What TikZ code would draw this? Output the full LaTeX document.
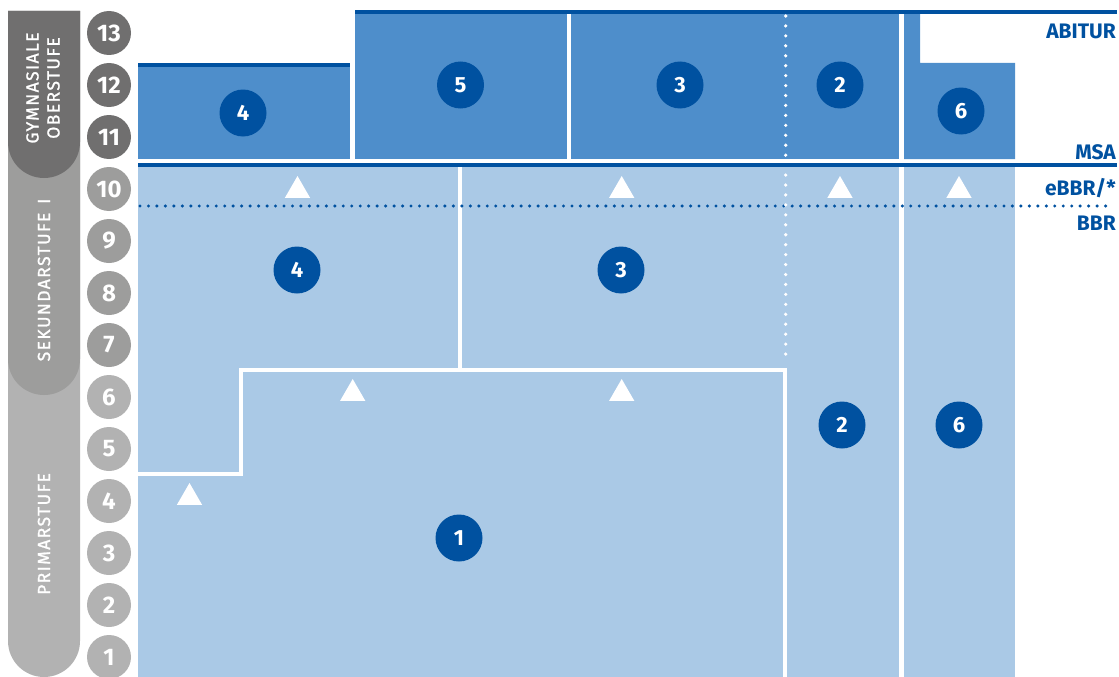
\documentclass[tikz,border=0pt]{standalone}
\usepackage{fontspec}
\setmainfont{Fira Sans}
\newfontfamily\bandfont[LetterSpace=8, FakeBold=1.2]{Fira Sans}
\usepackage{tikz}
\usetikzlibrary{
	shapes.geometric,
	positioning
}
\definecolor{darkblue}{HTML}{0051A0}
\definecolor{midblue}{HTML}{4E8ECB}
\definecolor{lightblue}{HTML}{AAC9E6}
\definecolor{gymgray}{HTML}{706F6F}
\definecolor{sekgray}{HTML}{9D9D9C}
\definecolor{primgray}{HTML}{B2B2B2}

\begin{document}
\begin{tikzpicture}[
    x=1pt, y=-1pt,
    grade/.style={circle, inner sep=0pt, outer sep=0pt, minimum size=44pt, text=white, font=\fontsize{24}{24}\selectfont\bfseries},
    stage/.style={circle, fill=darkblue, inner sep=0pt, minimum size=47pt, text=white, font=\fontsize{22}{22}\selectfont\bfseries},
    exit/.style={anchor=base east, inner sep=0pt, text=darkblue, font=\fontsize{21}{21}\selectfont\bfseries},
    bandtext/.style={rotate=90, inner sep=0pt, align=center, text=white, font=\fontsize{17.5}{21}\bandfont},
    up/.style={regular polygon, regular polygon sides=3, fill=white, inner sep=0pt, minimum size=29pt},
    gap/.style={white, line width=4pt},
    dots/.style={line width=3.4pt, line cap=round}
]
\useasboundingbox (0,0) rectangle (1119,677);

% Stufen
\fill[primgray] (8,11) -- (80,11) -- (80,641) arc[start angle=0, end angle=180, radius=36] -- cycle;
\fill[sekgray] (8,11) -- (80,11) -- (80,359) arc[start angle=0, end angle=180, radius=36] -- cycle;
\fill[gymgray] (8,11) -- (80,11) -- (80,142) arc[start angle=0, end angle=180, radius=36] -- cycle;

\node[bandtext] (gym) at (43,88) {GYMNASIALE\\OBERSTUFE};
\node[bandtext] (sek) at (44,280) {SEKUNDARSTUFE\enspace I};
\node[bandtext] (prim) at (44,534) {PRIMARSTUFE};

% Jahrgangsstufen
\node[grade, fill=primgray] (g1) at (109,657) {1};
\node[grade, fill=primgray, above=8pt of g1] (g2) {2};
\node[grade, fill=primgray, above=8pt of g2] (g3) {3};
\node[grade, fill=primgray, above=8pt of g3] (g4) {4};
\node[grade, fill=primgray, above=8pt of g4] (g5) {5};
\node[grade, fill=primgray, above=8pt of g5] (g6) {6};
\node[grade, fill=sekgray, above=8pt of g6] (g7) {7};
\node[grade, fill=sekgray, above=8pt of g7] (g8) {8};
\node[grade, fill=sekgray, above=8pt of g8] (g9) {9};
\node[grade, fill=sekgray, above=8pt of g9] (g10) {10};
\node[grade, fill=gymgray, above=8pt of g10] (g11) {11};
\node[grade, fill=gymgray, above=8pt of g11] (g12) {12};
\node[grade, fill=gymgray, above=8pt of g12] (g13) {13};

% Oberstufe
\fill[midblue] (138,67) rectangle (350,159);
\fill[midblue] (355,14) rectangle (567,159);
\fill[midblue] (571,14) rectangle (899,159);
\fill[midblue] (904,14) -- (920,14) -- (920,63) -- (1015,63) -- (1015,159) -- (904,159) -- cycle;
\fill[darkblue] (138,63) rectangle (350,67);
\fill[darkblue] (355,10) rectangle (1117,14);

% Sekundarstufe I und Primarstufe
\fill[lightblue] (138,167) rectangle (1015,677);
\draw[gap, line width=5pt] (901.5,167) -- (901.5,677);
\draw[gap] (459.8,167) -- (459.8,370);
\draw[gap] (138,474) -| (241,370) -| (784.5,677);
\draw[dots, darkblue, dash pattern=on 0pt off 8.47pt] (140,206) -- (1114,206);
\draw[dots, white, line width=3.6pt, dash pattern=on 0pt off 9.943pt] (785.7,16) -- (785.7,364);
\fill[darkblue] (138,163) rectangle (1117,167);

% Uebergaenge
\node[up] (t1) at (297.5,190.5) {};
\node[up] (t2) at (621.7,190.5) {};
\node[up] (t3) at (840,190.5) {};
\node[up] (t4) at (959,190.5) {};
\node[up] (t5) at (352.7,393.5) {};
\node[up] (t6) at (621.7,393.5) {};
\node[up] (t7) at (189.5,497.5) {};

% Schulformen
\node[stage] (up4) at (243,113) {4};
\node[stage] (up5) at (460.5,85) {5};
\node[stage] (up3) at (680,85) {3};
\node[stage] (up2) at (840,85) {2};
\node[stage] (up6) at (961,111) {6};
\node[stage] (low4) at (297,270) {4};
\node[stage] (low3) at (621,270) {3};
\node[stage] (low2) at (842,425) {2};
\node[stage] (low6) at (959,425) {6};
\node[stage] (low1) at (459,538) {1};

% Abschluesse
\node[exit] (abitur) at (1116,39) {ABITUR};
\node[exit] (msa) at (1116,159) {MSA};
\node[exit] (ebbr) at (1116,195) {eBBR/*};
\node[exit] (bbr) at (1116,230) {BBR};

\end{tikzpicture}
\end{document}
